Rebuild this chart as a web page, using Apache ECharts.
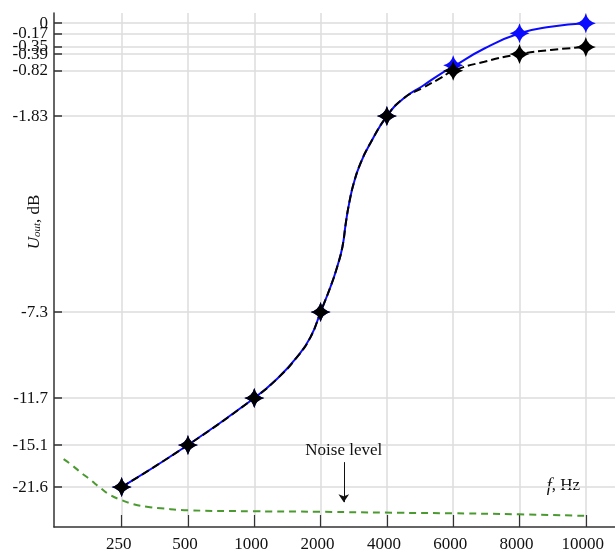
<!DOCTYPE html>
<html>
<head>
<meta charset="utf-8">
<script src="https://cdn.jsdelivr.net/npm/echarts@6/dist/echarts.min.js"></script>
<style>
  html, body { margin: 0; padding: 0; background: #fff; }
  #chart { width: 615px; height: 553px; }
</style>
</head>
<body>
<div id="chart"></div>
<script>
// Frequency response U_out(f) — measured points, fitted curves, noise floor.
// x is the index of the measured frequency (1..8), y is the relative output
// amplitude; the y tick labels carry the dB values written on the figure.

const freqLabels = ["250", "500", "1000", "2000", "4000", "6000", "8000", "10000"];
const freqPos = [1, 2, 3, 4, 5, 6, 7, 8];

// measured points (relative amplitude)
const uBlack = [0.0848, 0.1677, 0.2604, 0.430, 0.8166, 0.906, 0.939, 0.953];
const uBlue = [0.0848, 0.1677, 0.2604, 0.430, 0.8166, 0.917, 0.980, 1.0];

// dB labels on the y axis, top to bottom, and the points they mark
const dbLabels = ["0", "-0.17", "-0.35", "-0.39", "-0.82", "-1.83", "-7.3", "-11.7", "-15.1", "-21.6"];
const dbTickValues = [uBlue[7], uBlue[6], uBlack[7], uBlack[6], uBlack[5],
                      uBlack[4], uBlack[3], uBlack[2], uBlack[1], uBlack[0]];

// curves (shared part, then the two tails)
const curveShared = [[1, 0.0848], [2, 0.1677], [3, 0.2604], [3.35, 0.299], [3.65, 0.342], [3.85, 0.381],
  [4, 0.430], [4.15, 0.480], [4.25, 0.519], [4.33, 0.559], [4.38, 0.605], [4.43, 0.644], [4.5, 0.684],
  [4.6, 0.723], [4.75, 0.763], [5, 0.8166], [5.25, 0.8515]];
const curveBlueTail = [[5.55, 0.877], [5.8, 0.899], [6, 0.914], [6.47, 0.950], [7, 0.980], [7.47, 0.993], [8, 1.0]];
const curveBlackTail = [[5.55, 0.873], [5.8, 0.891], [6, 0.906], [6.47, 0.924], [7, 0.939], [7.47, 0.947], [8, 0.953]];

// noise floor
const noise = [[0.125, 0.140], [0.25, 0.128], [0.40, 0.112], [0.53, 0.099], [0.68, 0.083], [0.83, 0.069],
  [1.0, 0.059], [1.18, 0.051], [1.38, 0.046], [1.59, 0.043], [2, 0.039], [3, 0.037], [4, 0.036],
  [5.2, 0.034], [6, 0.033], [7, 0.031], [8, 0.028]];
const noiseArrow = { x: 4.35, from: 0.134, to: 0.055, text: "Noise level" };

const SERIF = "'Liberation Serif', 'Times New Roman', serif";
const STAR = "path://M0,-10 Q2,-2 10,0 Q2,2 0,10 Q-2,2 -10,0 Q-2,-2 0,-10Z";
const BLUE = "#0a0aff";
const GREEN = "#4a9a30";
const GRID = "#dcdcdc";
const INK = "#111";

const pts = (ys) => freqPos.map((x, i) => [x, ys[i]]);
const dbOf = (v) => { const i = dbTickValues.indexOf(v); return i < 0 ? "" : dbLabels[i]; };
const fOf = (v) => { const i = freqPos.indexOf(v); return i < 0 ? "" : freqLabels[i]; };

// the crowded labels near 0 dB are split over two stacked axes so none gets dropped
const labelsA = dbTickValues.filter((v, i) => i !== 1 && i !== 3);
const labelsB = dbTickValues.filter((v, i) => i === 1 || i === 3);
const yLabel = { formatter: dbOf, margin: 6, hideOverlap: false, showMinLabel: true, showMaxLabel: true,
                 fontFamily: SERIF, fontSize: 17, color: INK };

const chart = echarts.init(document.getElementById("chart"), null, { renderer: "canvas" });
chart.setOption({
  animation: false,
  backgroundColor: "#fff",
  grid: { left: 54, right: 0, top: 13, bottom: 26, containLabel: false, outerBoundsMode: "none" },
  xAxis: {
    type: "value", min: -0.02, max: 8.44,
    axisLine: { show: true, onZero: false, lineStyle: { color: "#333", width: 1.5 } },
    axisTick: { show: true, inside: true, length: 12, customValues: freqPos, lineStyle: { color: "#333", width: 1.2 } },
    axisLabel: { customValues: freqPos, formatter: fOf, margin: 9, hideOverlap: false, padding: [0, 6, 0, 0],
                 fontFamily: SERIF, fontSize: 17, color: INK },
    splitLine: { show: true, lineStyle: { color: GRID, width: 1.5 } },
  },
  yAxis: [{
    type: "value", min: 0.006, max: 1.02, position: "left",
    axisLine: { show: true, onZero: false, lineStyle: { color: "#333", width: 1.5 } },
    axisTick: { show: true, inside: true, length: 8, customValues: dbTickValues, lineStyle: { color: "#333", width: 1.5 } },
    axisLabel: Object.assign({ customValues: labelsA }, yLabel),
    splitLine: { show: true, lineStyle: { color: GRID, width: 1.5 } },
  }, {
    type: "value", min: 0.006, max: 1.02, position: "left", offset: 0,
    axisLine: { show: false }, axisTick: { show: false }, splitLine: { show: false },
    axisLabel: Object.assign({ customValues: labelsB }, yLabel),
  }],
  graphic: [{
    type: "text", x: 34, y: 222, rotation: Math.PI / 2,
    style: {
      text: "{u|U}{s|out}{d|, dB}", align: "center", verticalAlign: "middle",
      rich: {
        u: { fontFamily: SERIF, fontSize: 17, fontStyle: "italic", fill: INK, verticalAlign: "bottom", lineHeight: 18 },
        s: { fontFamily: SERIF, fontSize: 11, fontStyle: "italic", fill: INK, verticalAlign: "bottom", lineHeight: 14 },
        d: { fontFamily: SERIF, fontSize: 17, fill: INK, verticalAlign: "bottom", lineHeight: 18 },
      },
    },
  }, {
    type: "text", right: 35, top: 477,
    style: {
      text: "{f|f}{h|, Hz}",
      rich: {
        f: { fontFamily: SERIF, fontSize: 18, fontStyle: "italic", fill: INK },
        h: { fontFamily: SERIF, fontSize: 17, fill: INK },
      },
    },
  }],
  series: [
    {
      name: "noise", type: "line", data: noise, showSymbol: false, smooth: 0.5,
      lineStyle: { color: GREEN, width: 2, type: [7, 5] }, z: 2,
      markLine: {
        silent: true, symbol: ["none", "arrow"], symbolSize: 8,
        lineStyle: { color: INK, width: 1, type: "solid" },
        label: { show: true, position: "start", distance: 3, formatter: noiseArrow.text,
                 fontFamily: SERIF, fontSize: 17, color: INK },
        data: [[{ coord: [noiseArrow.x, noiseArrow.from] }, { coord: [noiseArrow.x, noiseArrow.to] }]],
      },
    },
    {
      name: "blue curve", type: "line", data: curveShared.concat(curveBlueTail), showSymbol: false,
      smooth: 0.5, lineStyle: { color: BLUE, width: 2 }, z: 3,
    },
    {
      name: "black curve", type: "line", data: curveShared.concat(curveBlackTail), showSymbol: false,
      smooth: 0.5, lineStyle: { color: "#000", width: 2, type: [8, 4] }, z: 4,
    },
    {
      name: "blue points", type: "scatter", data: pts(uBlue), symbol: STAR, symbolSize: 20,
      itemStyle: { color: BLUE, opacity: 1 }, z: 5,
    },
    {
      name: "black points", type: "scatter", data: pts(uBlack), symbol: STAR, symbolSize: 20,
      itemStyle: { color: "#000", opacity: 1 }, z: 6,
    },
  ],
});
</script>
</body>
</html>
